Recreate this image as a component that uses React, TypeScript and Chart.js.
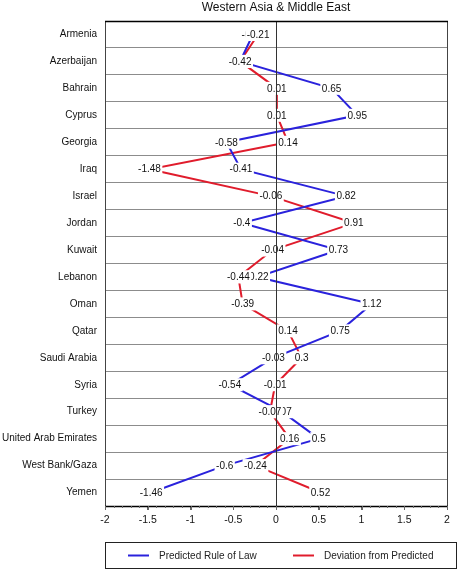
import React, { useEffect, useRef } from "react";
import { Chart, registerables } from "chart.js";

Chart.register(...registerables);

const categories = [
  "Armenia", "Azerbaijan", "Bahrain", "Cyprus", "Georgia", "Iraq", "Israel", "Jordan",
  "Kuwait", "Lebanon", "Oman", "Qatar", "Saudi Arabia", "Syria", "Turkey",
  "United Arab Emirates", "West Bank/Gaza", "Yemen",
];
const predicted = [-0.27, -0.42, 0.65, 0.95, -0.58, -0.41, 0.82, -0.4, 0.73, -0.22, 1.12, 0.75, -0.03, -0.54, 0.07, 0.5, -0.6, -1.46];
const deviation = [-0.21, -0.42, 0.01, 0.01, 0.14, -1.48, -0.06, 0.91, -0.04, -0.44, -0.39, 0.14, 0.3, -0.01, -0.07, 0.16, -0.24, 0.52];
const seriesNames = ["Predicted Rule of Law", "Deviation from Predicted"];
const xTicks = [-2, -1.5, -1, -0.5, 0, 0.5, 1, 1.5, 2];
const title = "Western Asia & Middle East";

const BLUE = "#2a22dc";
const RED = "#e01c2c";
const FONT = "'Liberation Sans', Arial, Helvetica, sans-serif";

const overlay = {
  id: "overlay",
  afterDatasetsDraw(chart: any) {
    const ctx = chart.ctx;
    const area = chart.chartArea;
    const xs = chart.scales.x;
    ctx.save();
    ctx.font = `10px ${FONT}`;
    ctx.textAlign = "center";
    ctx.textBaseline = "middle";
    chart.data.datasets.forEach((ds: any, i: number) => {
      const meta = chart.getDatasetMeta(i);
      meta.data.forEach((pt: any, j: number) => {
        const txt = String(ds.data[j]);
        const w = ctx.measureText(txt).width;
        ctx.fillStyle = "#ffffff";
        ctx.fillRect(pt.x - w / 2 - 1.5, pt.y - 6.5, w + 3, 13);
        ctx.fillStyle = "#111";
        ctx.fillText(txt, pt.x, pt.y + 0.5);
      });
    });
    // zero line
    const x0 = Math.round(xs.getPixelForValue(0)) + 0.5;
    ctx.strokeStyle = "#333";
    ctx.lineWidth = 1;
    ctx.beginPath();
    ctx.moveTo(x0, area.top);
    ctx.lineTo(x0, area.bottom);
    ctx.stroke();
    ctx.restore();
  },
  afterDraw(chart: any) {
    const ctx = chart.ctx;
    const area = chart.chartArea;
    const xs = chart.scales.x;
    ctx.save();
    // frame
    ctx.strokeStyle = "#444";
    ctx.lineWidth = 1;
    ctx.strokeRect(area.left + 0.5, area.top + 0.5, area.right - area.left, area.bottom - area.top);
    ctx.strokeStyle = "#000";
    ctx.lineWidth = 1.5;
    ctx.beginPath();
    ctx.moveTo(area.left, area.top + 0.5);
    ctx.lineTo(area.right + 1, area.top + 0.5);
    ctx.stroke();
    ctx.beginPath();
    ctx.moveTo(area.left, area.bottom + 0.5);
    ctx.lineTo(area.right + 1, area.bottom + 0.5);
    ctx.stroke();
    // minor ticks
    ctx.strokeStyle = "#666";
    ctx.lineWidth = 1;
    for (let k = -20; k <= 20; k++) {
      const v = k / 10;
      const px = Math.round(xs.getPixelForValue(v)) + 0.5;
      const len = k % 5 === 0 ? 4 : 2;
      ctx.beginPath();
      ctx.moveTo(px, area.bottom);
      ctx.lineTo(px, area.bottom + len);
      ctx.stroke();
    }
    // title
    ctx.fillStyle = "#111";
    ctx.font = `12px ${FONT}`;
    ctx.textAlign = "center";
    ctx.textBaseline = "middle";
    ctx.fillText(title, (area.left + area.right) / 2, 8);
    // legend
    const lx = 105.5, ly = 542.5, lw = 351, lh = 26;
    ctx.strokeStyle = "#222";
    ctx.lineWidth = 1;
    ctx.strokeRect(lx, ly, lw, lh);
    const cy = ly + lh / 2;
    const items = [
      { x: 128, color: BLUE, text: seriesNames[0] },
      { x: 293, color: RED, text: seriesNames[1] },
    ];
    ctx.font = `10px ${FONT}`;
    ctx.textAlign = "left";
    items.forEach((it) => {
      ctx.strokeStyle = it.color;
      ctx.lineWidth = 2;
      ctx.beginPath();
      ctx.moveTo(it.x, cy);
      ctx.lineTo(it.x + 21, cy);
      ctx.stroke();
      ctx.fillStyle = "#222";
      ctx.fillText(it.text, it.x + 31, cy + 0.5);
    });
    ctx.restore();
  },
};

export default function App() {
  const ref = useRef<HTMLCanvasElement>(null);
  useEffect(() => {
    if (!ref.current) return;
    const chart = new Chart(ref.current, {
      type: "line",
      data: {
        labels: categories,
        datasets: [
          { label: seriesNames[0], data: predicted, borderColor: BLUE, borderWidth: 2, pointRadius: 0, fill: false, tension: 0 },
          { label: seriesNames[1], data: deviation, borderColor: RED, borderWidth: 2, pointRadius: 0, fill: false, tension: 0 },
        ],
      },
      options: {
        animation: false,
        responsive: false,
        indexAxis: "y",
        layout: { padding: { top: 21, right: 11, left: 0, bottom: 0 } },
        plugins: { legend: { display: false }, title: { display: false }, tooltip: { enabled: false } },
        scales: {
          y: {
            type: "category",
            offset: true,
            grid: { offset: true, color: "#8c8c8c", lineWidth: 1, drawTicks: false },
            border: { display: false },
            ticks: { color: "#111", font: { family: FONT, size: 10 }, padding: 8 },
            afterFit(s: any) { s.width = 105; },
          },
          x: {
            type: "linear",
            min: -2,
            max: 2,
            afterBuildTicks(s: any) { s.ticks = xTicks.map((v) => ({ value: v })); },
            grid: { display: true, drawOnChartArea: false, drawTicks: true, tickLength: 4, color: "#666" },
            border: { display: false },
            ticks: {
              color: "#111",
              font: { family: FONT, size: 10.5 },
              padding: 4,
              maxRotation: 0,
              autoSkip: false,
              callback: (v: any) => String(v),
            },
            afterFit(s: any) { s.height = 65; },
          },
        },
      },
      plugins: [overlay],
    } as any);
    return () => chart.destroy();
  }, []);
  return (
    <div style={{ position: "absolute", left: 0, top: 0, width: 458, height: 571 }}>
      <canvas ref={ref} width={458} height={571} style={{ width: 458, height: 571 }} />
    </div>
  );
}
